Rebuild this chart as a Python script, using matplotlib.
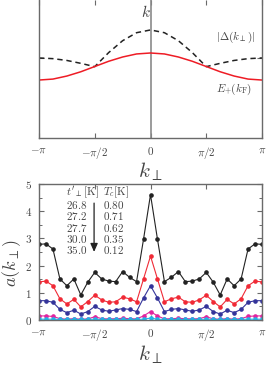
import numpy as np
import matplotlib
matplotlib.use("Agg")
import matplotlib.pyplot as plt

plt.rcParams["mathtext.fontset"] = "cm"
plt.rcParams["font.family"] = "serif"

# top panel: curves read at k = n*pi/8
k_top = np.pi * np.arange(-8, 9) / 8
gap_half = [0.580, 0.575, 0.562, 0.541, 0.517, 0.619, 0.705, 0.763, 0.783]
band_half = [0.420, 0.427, 0.449, 0.480, 0.518, 0.556, 0.587, 0.609, 0.616]
gap_abs = gap_half + gap_half[-2::-1]
band_e = band_half + band_half[-2::-1]

# bottom panel: a(k_perp) at k = -pi + 2*pi*n/32
k_bot = np.pi * np.arange(-16, 17) / 16
a_black_half = [2.78, 2.80, 2.61, 1.51, 1.26, 1.51, 0.92, 1.39, 1.75, 1.51, 1.43,
                1.41, 1.78, 1.57, 1.41, 2.97, 4.61]
a_red_half = [1.40, 1.43, 1.26, 0.78, 0.59, 0.76, 0.48, 0.68, 0.91, 0.74, 0.65,
              0.67, 0.84, 0.78, 0.67, 1.51, 2.35]
a_blue_half = [0.71, 0.71, 0.65, 0.39, 0.27, 0.36, 0.22, 0.31, 0.50, 0.37, 0.32,
               0.37, 0.42, 0.39, 0.31, 0.81, 1.26]
a_mag_half = [0.15, 0.15, 0.13, 0.05, 0.03, 0.05, 0.03, 0.04, 0.12, 0.05, 0.04,
              0.05, 0.06, 0.05, 0.04, 0.15, 0.31]
a_cyan_half = [0.03, 0.03, 0.03, 0.02, 0.02, 0.02, 0.02, 0.02, 0.03, 0.02, 0.02,
               0.02, 0.02, 0.02, 0.02, 0.03, 0.07]
series = {
    "#222222": a_black_half,
    "#f02a36": a_red_half,
    "#34349a": a_blue_half,
    "#e2249e": a_mag_half,
    "#1fb4ea": a_cyan_half,
}

t_perp = ["26.8", "27.2", "27.7", "30.0", "35.0"]
t_c = ["0.80", "0.71", "0.62", "0.35", "0.12"]

xticks = [-np.pi, -np.pi / 2, 0, np.pi / 2, np.pi]
xticklabels = [r"$-\pi$", r"$-\pi/2$", r"$0$", r"$\pi/2$", r"$\pi$"]
yticks = [0, 1, 2, 3, 4, 5]

spine_c = "#6a6a6a"
text_c = "#444444"

fig = plt.figure(figsize=(2.73, 3.65), dpi=100)
ax1 = fig.add_axes([39 / 273, 1 - 138 / 365, 223 / 273, 138 / 365])
ax2 = fig.add_axes([39 / 273, 1 - 320 / 365, 223 / 273, 136 / 365])

for ax in (ax1, ax2):
    for s in ax.spines.values():
        s.set_color(spine_c)
        s.set_linewidth(1.0)
    ax.set_xlim(-np.pi, np.pi)
    ax.set_xticks(xticks)
    ax.set_xticklabels(xticklabels)
    ax.tick_params(direction="in", top=True, right=True, length=3.5, width=0.8,
                   color=spine_c, labelsize=8, labelcolor=text_c, pad=5)
    ax.tick_params(which="minor", direction="in", top=True, right=True,
                   length=2, width=0.7, color=spine_c)
    ax.set_xlabel(r"$k_{\perp}$", fontsize=15, color=text_c, labelpad=0)

# top panel
ax1.spines["top"].set_visible(False)
ax1.set_ylim(0, 1)
ax1.set_yticks([0.58])
ax1.set_yticklabels([])
ax1.axvline(0, color="#8a8a8a", lw=1.2)
ax1.plot(k_top, gap_abs, color="#222222", lw=1.1, ls=(0, (3.5, 2.5)))
ax1.plot(k_top, band_e, color="#ee1c25", lw=1.1)
ax1.text(-0.12, 0.91, r"$k$", fontsize=11, color=text_c, ha="center", va="center")
ax1.text(2.41, 0.73, r"$|\Delta(k_{\perp})|$", fontsize=8, color=text_c,
         ha="center", va="center")
ax1.text(2.35, 0.35, r"$E_{+}(k_{\mathrm{F}})$", fontsize=8, color=text_c,
         ha="center", va="center")

# bottom panel
for c, half in series.items():
    vals = half + half[-2::-1]
    ax2.plot(k_bot, vals, color=c, lw=0.8, marker="o", ms=2.3, mec=c, mfc=c)
ax2.set_ylim(0, 5)
ax2.set_yticks(yticks)
ax2.set_yticklabels([r"$%d$" % v for v in yticks])
ax2.set_yticks(np.arange(0.5, 5, 1.0), minor=True)
ax2.set_ylabel(r"$a(k_{\perp})$", fontsize=13, color=text_c)
ax2.yaxis.set_label_coords(-0.07, 0.42)
ax2.xaxis.set_label_coords(0.5, -0.17)

ax2.text(0.121, 0.94, r"$t'_{\perp}[\mathrm{K}]$", transform=ax2.transAxes,
         fontsize=8, color=text_c, va="center")
ax2.text(0.287, 0.94, r"$T_c[\mathrm{K}]$", transform=ax2.transAxes,
         fontsize=8, color=text_c, va="center")
row_y = [0.846, 0.765, 0.680, 0.596, 0.515]
for yy, a, b in zip(row_y, t_perp, t_c):
    ax2.text(0.121, yy, "$" + a + "$", transform=ax2.transAxes, fontsize=8,
             color=text_c, va="center")
    ax2.text(0.287, yy, "$" + b + "$", transform=ax2.transAxes, fontsize=8,
             color=text_c, va="center")
ax2.annotate("", xy=(0.247, 0.48), xytext=(0.247, 0.88), xycoords="axes fraction",
             arrowprops=dict(arrowstyle="-|>,head_length=0.5,head_width=0.22",
                             color="#222222", lw=0.9))

fig.savefig("out.png", dpi=100)
